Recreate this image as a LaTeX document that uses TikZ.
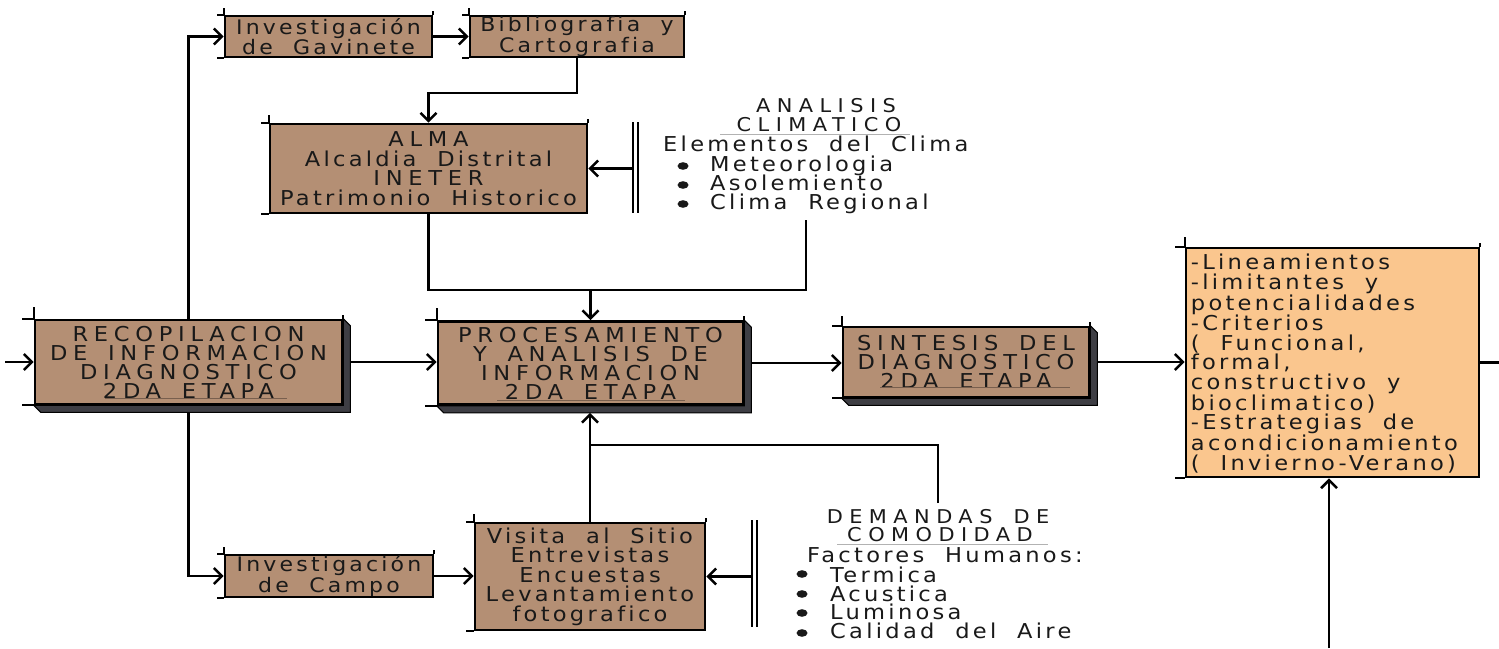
\documentclass[tikz,border=0pt]{standalone}
\usepackage{fontspec}
\setmainfont{DejaVu Sans}[FakeStretch=1.1,LetterSpace=16,WordSpace=2,Ligatures=NoCommon]
\newfontfamily\capfont{DejaVu Sans}[FakeStretch=1.1,LetterSpace=28,WordSpace=1.6,Ligatures=NoCommon]
\newfontfamily\labcapfont{DejaVu Sans}[FakeStretch=1.1,LetterSpace=34,WordSpace=1.6,Ligatures=NoCommon]
\usetikzlibrary{arrows.meta,calc,backgrounds}
\definecolor{boxbrown}{RGB}{180,143,116}
\definecolor{boxorange}{RGB}{250,198,142}
\definecolor{ink}{RGB}{25,25,25}
\definecolor{shade}{RGB}{62,62,68}
\definecolor{uline}{RGB}{120,95,78}
\newcommand\shadebox[1]{\filldraw[fill=shade,draw=black,line width=1pt] (#1.north east) -- ++(7,7) -- ($(#1.south east)+(7,7)$) -- ($(#1.south west)+(7,7)$) -- (#1.south west) -- (#1.south east) -- cycle;}
\newcommand\tk[2]{\draw[tick] (#1.north west) -- ++(-#2,0) (#1.north west) -- ++(0,-#2) (#1.north east) -- ++(0,-4) (#1.south west) -- ++(-#2,0);}
\begin{document}
\begin{tikzpicture}[x=1pt,y=-1pt,
  every node/.style={text=ink},
  box/.style={draw=black,line width=2.6pt,fill=boxbrown,inner sep=0pt,align=center,font=\fontsize{20.5}{19.5}\selectfont},
  smallbox/.style={box,font=\fontsize{20}{17.5}\selectfont},
  capbox/.style={box,font=\capfont\fontsize{20.5}{19}\selectfont},
  arr/.style={line width=2.3pt,-{Straight Barb[length=8pt,width=16pt,line width=2.6pt]}},
  conn/.style={line width=2.3pt},
  lbl/.style={inner sep=0pt,font=\fontsize{20.5}{20}\selectfont},
  caplbl/.style={inner sep=0pt,font=\labcapfont\fontsize{19}{20}\selectfont},
  tick/.style={line width=2.2pt},
  bar/.style={line width=2.3pt},
  ul/.style={draw=uline,line width=0.8pt},
  labul/.style={draw=gray!60,line width=0.8pt},
]
\useasboundingbox (0,0) rectangle (1499,648);

% boxes
\node[smallbox,minimum width=207pt,minimum height=41pt] (gav) at (328.5,36.5) {Investigación\\de Gavinete};
\node[smallbox,minimum width=214pt,minimum height=41pt] (bib) at (577,36.5) {Bibliografia y\\Cartografia};
\node[box,minimum width=317pt,minimum height=89pt] (alma) at (428.5,168.5) {{\capfont ALMA}\\Alcaldia Distrital\\{\capfont INETER}\\Patrimonio Historico};
\node[capbox,minimum width=307pt,minimum height=84pt] (rec) at (188.5,362) {RECOPILACION\\DE INFORMACION\\DIAGNOSTICO\\2DA ETAPA};
\node[capbox,minimum width=305pt,minimum height=83pt] (proc) at (590.5,363) {PROCESAMIENTO\\Y ANALISIS DE\\INFORMACION\\2DA ETAPA};
\node[capbox,minimum width=246pt,minimum height=70pt] (sint) at (966,362) {SINTESIS DEL\\DIAGNOSTICO\\2DA ETAPA};
\node[box,fill=boxorange,minimum width=293pt,minimum height=229pt] (res) at (1332.5,362.5) {};
\node[inner sep=0pt,anchor=west,align=left,font=\fontsize{20.5}{19.5}\selectfont] (restext) at ($(res.west)+(6,1)$) {-Lineamientos\\-limitantes y\\potencialidades\\-Criterios\\( Funcional,\\formal,\\constructivo y\\bioclimatico)\\-Estrategias de\\acondicionamiento\\( Invierno-Verano)};
\node[smallbox,minimum width=208pt,minimum height=42pt] (campo) at (329,576) {Investigación\\de Campo};
\node[box,minimum width=230pt,minimum height=107pt] (vis) at (590,576.5) {Visita al Sitio\\Entrevistas\\Encuestas\\Levantamiento\\fotografico};

% corner ticks
\tk{gav}{7}\tk{bib}{7}\tk{alma}{8}\tk{rec}{12}\tk{proc}{12}\tk{sint}{10}\tk{res}{10}\tk{campo}{7}\tk{vis}{8}

% text underlines inside boxes
\draw[ul] (105,398) -- (287,398);
\draw[ul] (497,400) -- (685,400);
\draw[ul] (880,387) -- (1070,387);

% analisis climatico
\node[caplbl,anchor=base] (clA) at (826,112) {ANALISIS};
\node[caplbl,anchor=base] (clB) at (819,131) {CLIMATICO};
\draw[labul] (720,134) -- (910,134);
\node[lbl,anchor=base west] (clC) at (663,151) {Elementos del Clima};
\node[lbl,anchor=base west] (cl1) at (710,171) {Meteorologia};
\node[lbl,anchor=base west] (cl2) at (710,190) {Asolemiento};
\node[lbl,anchor=base west] (cl3) at (710,209) {Clima Regional};
\fill[ink] (683,166) ellipse (5.5 and 3.8);
\fill[ink] (683,185) ellipse (5.5 and 3.8);
\fill[ink] (683,204) ellipse (5.5 and 3.8);

% demandas de comodidad
\node[caplbl,anchor=base] (dmA) at (938,523) {DEMANDAS DE};
\node[caplbl,anchor=base] (dmB) at (940,541) {COMODIDAD};
\draw[labul] (837,544) -- (1048,544);
\node[lbl,anchor=base west] (dmC) at (807,562) {Factores Humanos:};
\node[lbl,anchor=base west] (dm1) at (830,582) {Termica};
\node[lbl,anchor=base west] (dm2) at (830,601) {Acustica};
\node[lbl,anchor=base west] (dm3) at (830,619) {Luminosa};
\node[lbl,anchor=base west] (dm4) at (830,638) {Calidad del Aire};
\fill[ink] (802,574) ellipse (5.5 and 3.8);
\fill[ink] (802,594) ellipse (5.5 and 3.8);
\fill[ink] (802,613) ellipse (5.5 and 3.8);
\fill[ink] (802,633) ellipse (5.5 and 3.8);

% double bars
\draw[bar] (633,122) -- (633,213) (638,122) -- (638,213);
\draw[bar] (752,520) -- (752,627) (757,520) -- (757,627);

% coordinates
\coordinate (rin) at (5,362);
\coordinate (jb) at (428.5,93);
\coordinate (cbar) at (633,168.5);
\coordinate (cl) at (806,220);
\coordinate (j1) at (590.5,290);
\coordinate (rout) at (1499,362.5);
\coordinate (rb) at (1329,648);
\coordinate (dm) at (938,503);
\coordinate (j2) at (590,445);
\coordinate (vbar) at (752,576.5);

\begin{scope}[on background layer]
\fill[white] (0,0) rectangle (1499,648);
\draw[arr] (rec.north) |- (gav.west);
\draw[arr] (rec.south) |- (campo.west);
\draw[arr] (rin) -- (rec.west);
\draw[arr] (gav.east) -- (bib.west);
\draw[arr] (bib.south) |- (jb) -- (alma.north);
\draw[arr] (cbar) -- (alma.east);
\draw[conn] (alma.south) |- (j1);
\draw[conn] (cl) |- (j1);
\draw[arr] (j1) -- (proc.north);
\draw[arr] (rec.east) -- (rec.east -| proc.west);
\draw[arr] (proc.east) -- (proc.east -| sint.west);
\draw[arr] (sint.east) -- (sint.east -| res.west);
\draw[conn] (res.east) -- (rout);
\draw[arr] (rb) -- (rb |- res.south);
\draw[arr] (vis.north) -- ($(vis.north |- proc.south)+(0,7)$);
\draw[conn] (dm) |- (j2);
\draw[arr] (campo.east) -- (campo.east -| vis.west);
\draw[arr] (vbar) -- (vbar -| vis.east);
\shadebox{rec}
\shadebox{proc}
\shadebox{sint}
\end{scope}
\end{tikzpicture}
\end{document}
